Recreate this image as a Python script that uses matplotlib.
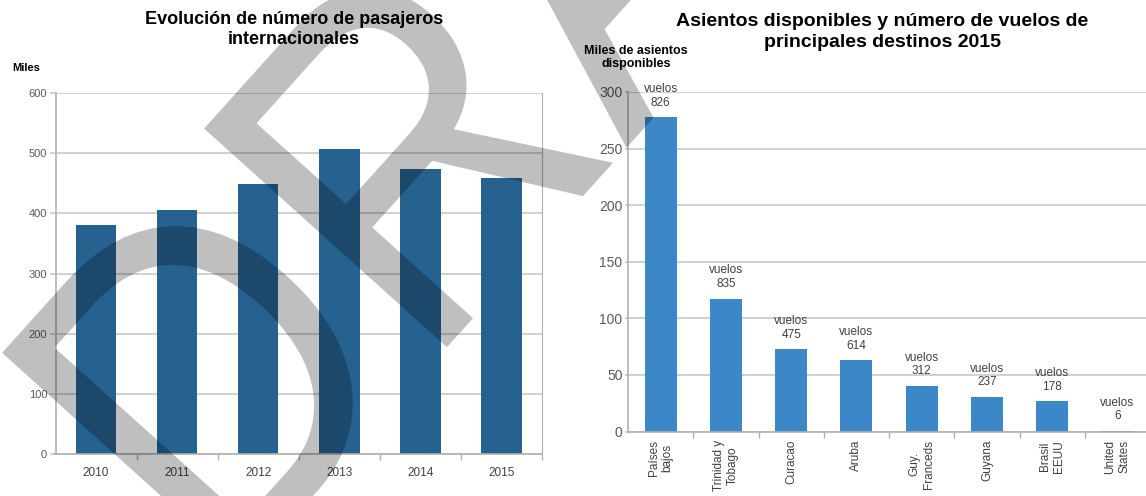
import matplotlib
matplotlib.use("Agg")
import matplotlib.pyplot as plt
from matplotlib.patches import PathPatch
from matplotlib.textpath import TextPath
from matplotlib.font_manager import FontProperties
from matplotlib.transforms import Affine2D, IdentityTransform
from matplotlib.ticker import FixedLocator

plt.rcParams['font.family'] = ['Liberation Sans', 'DejaVu Sans']

# left chart: international passengers (thousands)
years = ['2010', '2011', '2012', '2013', '2014', '2015']
pasajeros = [381, 406, 449, 507, 473, 458]

# right chart: available seats (thousands) and flights by destination, 2015
destinos = ['Países\nbajos', 'Trinidad y\nTobago', 'Curacao', 'Aruba',
            'Guy.\nFranceds', 'Guyana', 'Brasil\nEEUU', 'United\nStates']
asientos = [278, 117.5, 73, 63, 40.5, 30.8, 26.6, 0.6]
vuelos = [826, 835, 475, 614, 312, 237, 178, 6]

W, H = 1146, 496
fig = plt.figure(figsize=(W / 100, H / 100), dpi=100)
fig.patch.set_facecolor('white')

grid_c = '#c8c8c8'
tick_c = '#595959'


def style_axes(ax):
    ax.set_axisbelow(True)
    ax.yaxis.grid(True, color=grid_c, lw=1.2)
    for s in ['top', 'right']:
        ax.spines[s].set_visible(False)
    for s in ['left', 'bottom']:
        ax.spines[s].set_color('#b0b0b0')
        ax.spines[s].set_linewidth(1.2)
    ax.tick_params(axis='y', colors=grid_c, labelcolor=tick_c, length=4, width=1.2, pad=2)
    ax.tick_params(axis='x', which='major', length=0)
    ax.tick_params(axis='x', which='minor', length=4, width=1, colors='#b0b0b0')


# ---- left chart
ax1 = fig.add_axes([55.5 / W, 42 / H, 486.5 / W, 361 / H])
ax1.bar(range(len(years)), pasajeros, width=0.5, color='#266290')
ax1.set_xlim(-0.5, len(years) - 0.5)
ax1.set_ylim(0, 600)
ax1.set_yticks(range(0, 601, 100))
ax1.set_xticks(range(len(years)))
ax1.set_xticklabels(years, fontsize=8.5, color='#404040')
ax1.xaxis.set_minor_locator(FixedLocator([i + 0.5 for i in range(len(years))]))
style_axes(ax1)
ax1.spines['right'].set_visible(True)
ax1.spines['right'].set_color('#b0b0b0')
ax1.tick_params(axis='y', labelsize=8)
ax1.tick_params(axis='x', pad=9)

fig.text(294 / W, 1 - 29.5 / H, 'Evolución de número de pasajeros\ninternacionales',
         ha='center', va='center', fontsize=13, fontweight='bold', linespacing=1.3)
fig.text(26 / W, 1 - 68 / H, 'Miles', ha='center', va='center', fontsize=8, fontweight='bold')

# ---- right chart
ax2 = fig.add_axes([628 / W, 64.5 / H, 522 / W, 339.5 / H])
xs = range(len(destinos))
bars = ax2.bar(xs, asientos, width=0.49, color='#3b87c8')
ax2.set_xlim(-0.5, len(destinos) - 0.5)
ax2.set_ylim(0, 300)
ax2.set_yticks(range(0, 301, 50))
ax2.set_xticks(list(xs))
ax2.set_xticklabels(destinos, rotation=90, ha='center', va='top', fontsize=8.5, color='#404040')
ax2.xaxis.set_minor_locator(FixedLocator([i + 0.5 for i in range(len(destinos))]))
style_axes(ax2)
ax2.tick_params(axis='y', labelsize=10, length=2)
ax2.tick_params(axis='x', pad=6)

for b, n in zip(bars, vuelos):
    ax2.annotate(f'vuelos\n{n}', xy=(b.get_x() + b.get_width() / 2, b.get_height()),
                 xytext=(0, 6), textcoords='offset points', ha='center', va='bottom',
                 fontsize=8.5, color='#404040', linespacing=1.2)

fig.text(882 / W, 1 - 32 / H, 'Asientos disponibles y número de vuelos de\nprincipales destinos 2015',
         ha='center', va='center', fontsize=14, fontweight='bold', linespacing=1.25)
fig.text(636 / W, 1 - 57.5 / H, 'Miles de asientos\ndisponibles', ha='center', va='center',
         fontsize=9, fontweight='bold', linespacing=1.2)

# ---- DRAFT watermark
em = 475
sx = 0.88
tp = TextPath((0, 0), 'DRAFT', size=1, prop=FontProperties(family='Liberation Sans'))
tr = Affine2D().scale(em * sx, em).rotate_deg(48).translate(222, -101)
wm = PathPatch(tr.transform_path(tp), facecolor='black', edgecolor='none', alpha=0.25,
               transform=IdentityTransform(), zorder=10)
fig.add_artist(wm)

fig.savefig('out.png', dpi=100, facecolor='white')
